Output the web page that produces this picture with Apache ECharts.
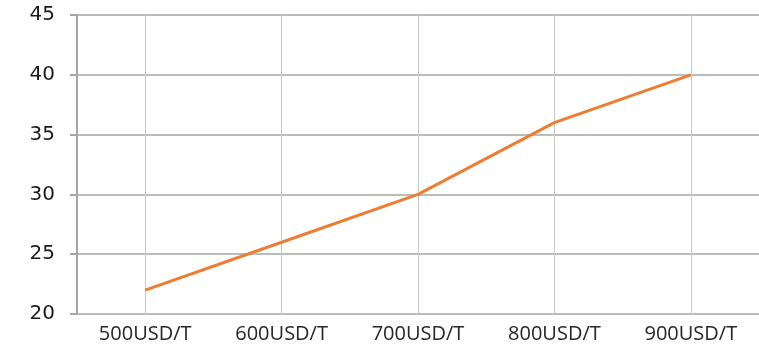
<!DOCTYPE html>
<html>
<head>
<meta charset="utf-8">
<script src="https://cdn.jsdelivr.net/npm/echarts@6/dist/echarts.min.js"></script>
<style>
  html, body { margin: 0; padding: 0; background: #fff; }
  #main { width: 759px; height: 350px; }
</style>
</head>
<body>
<div id="main"></div>
<script>
var categories = ['500USD/T', '600USD/T', '700USD/T', '800USD/T', '900USD/T'];
var values = [22, 26, 30, 36, 40];

var chart = echarts.init(document.getElementById('main'));

var option = {
  animation: false,
  grid: {
    left: 77,
    right: 0,
    top: 15,
    bottom: 36
  },
  xAxis: {
    type: 'category',
    data: categories,
    boundaryGap: true,
    axisLine: { show: false },
    axisTick: { show: false },
    axisLabel: {
      margin: 10,
      fontFamily: 'Open Sans',
      fontSize: 20,
      color: '#262626'
    },
    splitLine: {
      show: true,
      alignWithLabel: true,
      lineStyle: { color: '#c9c9c9', width: 1 }
    }
  },
  yAxis: {
    type: 'value',
    min: 20,
    max: 45,
    interval: 5,
    axisLine: { show: true, lineStyle: { color: '#a6a6a6', width: 2 } },
    axisTick: { show: true, length: 7, lineStyle: { color: '#a6a6a6', width: 2 } },
    axisLabel: {
      margin: 22,
      fontFamily: 'DejaVu Sans',
      fontSize: 20,
      color: '#1a1a1a'
    },
    splitLine: {
      show: true,
      lineStyle: { color: '#a6a6a6', width: 1.5 }
    }
  },
  series: [{
    type: 'line',
    data: values,
    showSymbol: false,
    symbol: 'none',
    lineStyle: { color: '#ed7d31', width: 3 }
  }]
};

chart.setOption(option);
</script>
</body>
</html>
